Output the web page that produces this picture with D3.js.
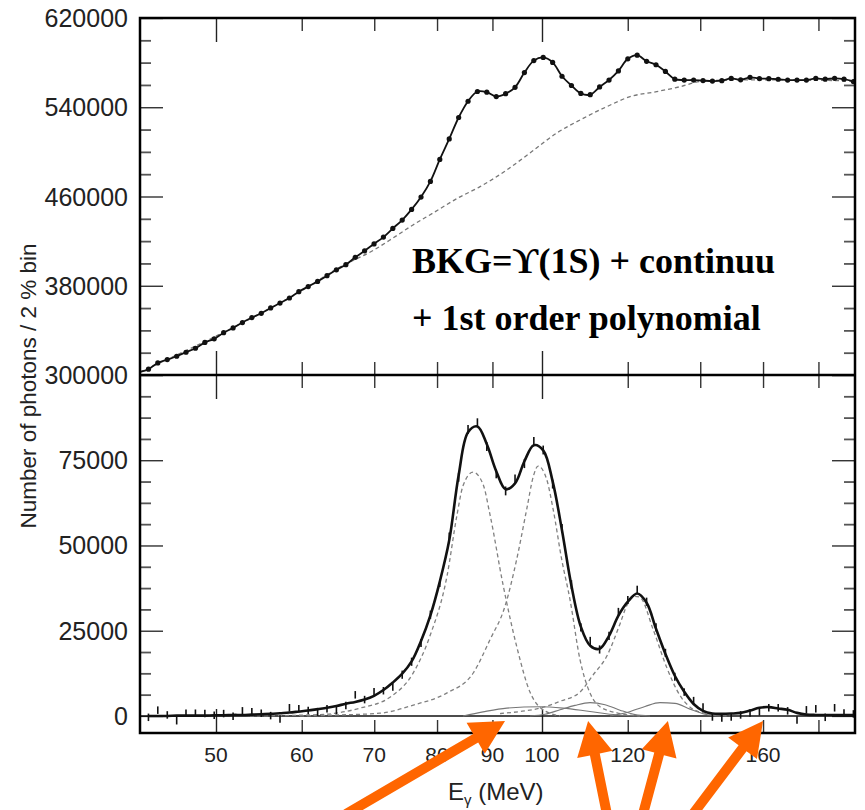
<!DOCTYPE html>
<html>
<head>
<meta charset="utf-8">
<script src="https://cdn.jsdelivr.net/npm/d3@7"></script>
<style>
  body { margin: 0; background: #fff; }
  svg { display: block; }
</style>
</head>
<body>
<div id="chart"></div>
<script>
// photon energy bin centres (MeV), 2 % bins
const energies = [43.31, 44.18, 45.08, 45.99, 46.91, 47.86, 48.83, 49.81, 50.82, 51.85,
  52.89, 53.96, 55.05, 56.16, 57.29, 58.45, 59.63, 60.83, 62.06, 63.31,
  64.59, 65.90, 67.23, 68.58, 69.97, 71.38, 72.82, 74.29, 75.79, 77.32,
  78.88, 80.47, 82.10, 83.76, 85.45, 87.17, 88.93, 90.73, 92.56, 94.43,
  96.33, 98.28, 100.26, 102.29, 104.35, 106.46, 108.61, 110.80, 113.03, 115.32,
  117.64, 120.02, 122.44, 124.91, 127.43, 130.01, 132.63, 135.31, 138.04, 140.83,
  143.67, 146.57, 149.53, 152.55, 155.63, 158.77, 161.97, 165.24, 168.58, 171.98,
  175.45, 178.99, 182.61, 186.29, 190.05, 193.89];

// upper panel: raw spectrum
const topCounts = [305200, 310800, 313800, 316800, 320400, 324000, 329200, 332400, 337900, 342200,
  347000, 351500, 355300, 360100, 364500, 369000, 374700, 379300, 383900, 389000,
  394300, 398900, 405500, 411300, 417500, 423600, 431400, 438900, 448400, 459500,
  473500, 493200, 511600, 530800, 545400, 554100, 553500, 549600, 552200, 557900,
  571100, 581800, 584700, 580200, 567800, 559500, 552400, 551300, 558200, 564400,
  572600, 583400, 586700, 581200, 578100, 572100, 565200, 564400, 564400, 563900,
  563500, 563800, 565800, 564600, 566800, 565700, 565600, 565100, 564400, 564400,
  564400, 565800, 565200, 565900, 565200, 563000];
// fit value where the curve enters at the left edge
const topFitStartE = 42.54, topFitStart = 302700;

// upper panel: background shape (dashed)
const bkgE = [42.54, 52.2, 59.78, 65.08, 69.82, 72.85, 76.01, 79.32, 83.65, 87.66, 92.78,
  97.48, 103.18, 108.42, 114.75, 120.58, 127.62, 134.10, 139.93, 152.35, 173.1, 194.5];
const bkgCounts = [302700, 344000, 374700, 396800, 411600, 422800, 434500, 445200, 458700, 468800, 483800,
  499000, 516900, 528600, 540500, 549500, 554000, 558400, 563000, 564600, 564400, 563500];

// lower panel: background-subtracted spectrum
const subCounts = [-400, 1700, 300, -1400, 800, 800, 700, 200, 700, -100,
  1500, 1200, 800, 100, -900, 2400, 2100, 1600, 1100, 2100,
  1600, 3100, 6200, 4800, 7100, 7400, 8500, 12100, 15900, 21400,
  29700, 39000, 52500, 70000, 84000, 86000, 79000, 71000, 66000, 69500,
  74000, 80500, 78000, 68000, 55000, 38500, 26000, 22000, 19500, 23500,
  30500, 34000, 37000, 33500, 26000, 18500, 11500, 7000, 4500, 2600,
  -300, -600, -300, 300, 900, 1200, 2400, 2400, 1500, -1200,
  1800, 2100, -400, 2400, 900, 600];
const subErrors = [1100, 1100, 1100, 1100, 1100, 1100, 1100, 1100, 1100, 1100,
  1100, 1100, 1100, 1100, 1100, 1100, 1100, 1100, 1100, 1100,
  1100, 1100, 1100, 1100, 1100, 1100, 1100, 1200, 1200, 1200,
  1200, 1200, 1300, 1300, 1300, 1300, 1300, 1300, 1300, 1300,
  1300, 1300, 1300, 1300, 1300, 1300, 1200, 1200, 1200, 1200,
  1200, 1200, 1200, 1200, 1200, 1200, 1200, 1100, 1100, 1100,
  1100, 1100, 1100, 1100, 1100, 1100, 1100, 1100, 1100, 1100,
  1100, 1100, 1100, 1100, 1100, 1100];
const subFit = [0, 0, 0, 100, 100, 100, 100, 200, 200, 300,
  300, 400, 500, 600, 800, 1000, 1300, 1600, 2000, 2400,
  2900, 3600, 4100, 4800, 5900, 7600, 9800, 12400, 16000, 22000,
  29500, 39400, 51500, 70600, 83200, 84900, 79700, 71800, 66500, 68200,
  74700, 79400, 77900, 68800, 54400, 38200, 26200, 20600, 19700, 23500,
  29400, 33500, 35900, 33200, 25600, 18200, 11800, 7100, 3500, 1500,
  700, 600, 700, 900, 1600, 2400, 2600, 2200, 1800, 900,
  400, 300, 300, 300, 300, 300];

// fitted line shapes (dashed)
const peak1E = [53.75, 62.38, 67.91, 72.38, 76.01, 78.81, 81.71, 83.47, 84.54, 86.36, 88.21, 89.54, 92.05, 94.83, 97.48, 99.58, 103.90];
const peak1Counts = [0, 400, 2300, 5500, 12500, 23500, 41000, 59000, 67500, 71500, 68000, 59000, 38500, 20000, 7000, 2500, 0];
const peak2E = [59.78, 65.08, 70.86, 76.07, 81.65, 86.4, 89.54, 92.44, 94.76, 96.8, 98.2, 99.16, 101.0, 102.4, 104.28, 106.14, 108.42, 110.75, 113.13, 117.29, 123.17];
const peak2Counts = [0, 300, 800, 3200, 6700, 12600, 22400, 32200, 45900, 60600, 70400, 73300, 69400, 60600, 45900, 34100, 16500, 6700, 2700, 900, 0];
const peak3E = [91.46, 95.43, 99.58, 103.90, 108.42, 111.46, 114.75, 118.04, 119.81, 121.87, 123.17, 126.62, 130.45, 134.10, 137.86, 142.03, 149.14];
const peak3Counts = [700, 1300, 2300, 4300, 7000, 12000, 17500, 27000, 32500, 35100, 34800, 25500, 14000, 6000, 2000, 700, 0];

// small transitions (thin solid)
const smallAE = [84.54, 88.21, 92.78, 99.58, 104.57, 110.75, 117.29, 123.17];
const smallACounts = [0, 1200, 2300, 2700, 2300, 1300, 300, 0];
const smallBE = [97.48, 100.64, 103.90, 107.27, 110.75, 114.34, 118.04, 121.87, 125.82];
const smallBCounts = [0, 500, 1800, 3100, 3900, 3300, 1700, 400, 0];
const smallCE = [115.56, 119.81, 124.49, 128.52, 132.69, 136.99, 141.43, 146.02];
const smallCCounts = [0, 1000, 2800, 3900, 3700, 2000, 500, 0];

// ticks
const xMajorTicks = [50, 100];
const xMinorTicks = [60, 70, 80, 90, 120, 140, 160, 180];
const xTickLabels = [50, 60, 70, 80, 90, 100, 120, 160];
const topYTicks = [300000, 380000, 460000, 540000, 620000];
const botYTicks = [0, 25000, 50000, 75000];

// annotation arrows: tip energy, tail energy
const arrowTipE = [92.44, 110.3, 130.7, 160.0];
const arrowTailE = [65.92, 114.8, 123.96, 137.86];

const width = 865, height = 810;
const plotLeft = 140, plotRight = 855;
const topEdge = 18, midEdge = 375, botEdge = 733;

const x = d3.scaleLog().domain([42.54, 194.55]).range([plotLeft, plotRight]);
const yTop = d3.scaleLinear().domain([300000, 620000]).range([midEdge, topEdge]);
const yBot = d3.scaleLinear().domain([-5000, 100000]).range([botEdge, midEdge]);

const svg = d3.select("#chart").append("svg")
    .attr("width", width)
    .attr("height", height)
    .style("font-family", "'Liberation Sans', Arial, Helvetica, sans-serif");

const defs = svg.append("defs");
defs.append("clipPath").attr("id", "clipTop").append("rect")
    .attr("x", plotLeft).attr("y", topEdge)
    .attr("width", plotRight - plotLeft).attr("height", midEdge - topEdge);
defs.append("clipPath").attr("id", "clipBot").append("rect")
    .attr("x", plotLeft).attr("y", midEdge)
    .attr("width", plotRight - plotLeft).attr("height", botEdge - midEdge);

// ticks helper
function ticks(axis, tx, ty, values, size, color, sw) {
    const g = svg.append("g")
        .attr("transform", `translate(${tx},${ty})`)
        .call(axis.tickValues(values).tickSize(size).tickFormat(""));
    g.select(".domain").remove();
    g.selectAll(".tick line").attr("stroke", color).attr("stroke-width", sw);
    return g;
}

const topMinor = d3.range(300000, 620001, 20000).filter(v => !topYTicks.includes(v));
const botMinor = d3.range(0, 100001, 6250).filter(v => v % 25000 !== 0);

// y ticks, both panels, both sides
[[yTop, topYTicks, topMinor], [yBot, botYTicks.concat([100000]), botMinor]].forEach(([s, maj, min]) => {
    ticks(d3.axisLeft(s), plotLeft, 0, min, -11, "#555", 1.8);
    ticks(d3.axisLeft(s), plotLeft, 0, maj, -23, "#222", 1.3);
    ticks(d3.axisRight(s), plotRight, 0, min, -11, "#555", 1.8);
    ticks(d3.axisRight(s), plotRight, 0, maj, -23, "#222", 1.3);
});

// x ticks on every horizontal edge, pointing inward
[[d3.axisTop, topEdge], [d3.axisBottom, midEdge], [d3.axisTop, midEdge], [d3.axisBottom, botEdge]].forEach(([fn, yy]) => {
    ticks(fn(x), 0, yy, xMinorTicks, -13, "#333", 1.4);
    ticks(fn(x), 0, yy, xMajorTicks, -24, "#222", 1.4);
});

// tick labels
svg.append("g").selectAll("text")
    .data(topYTicks).enter().append("text")
    .attr("x", plotLeft - 12).attr("y", d => yTop(d))
    .attr("dy", "0.36em").attr("text-anchor", "end")
    .attr("font-size", 25).attr("fill", "#222")
    .text(d => d);
svg.append("g").selectAll("text")
    .data(botYTicks).enter().append("text")
    .attr("x", plotLeft - 12).attr("y", d => yBot(d))
    .attr("dy", "0.36em").attr("text-anchor", "end")
    .attr("font-size", 25).attr("fill", "#222")
    .text(d => d);
svg.append("g").selectAll("text")
    .data(xTickLabels).enter().append("text")
    .attr("x", d => x(d)).attr("y", 762)
    .attr("text-anchor", "middle")
    .attr("font-size", 21).attr("fill", "#222")
    .text(d => d);

// axis titles
svg.append("text")
    .attr("transform", "translate(36,386) rotate(-90)")
    .attr("text-anchor", "middle")
    .attr("font-size", 22.5).attr("fill", "#222")
    .text("Number of photons / 2 % bin");
const xt = svg.append("text")
    .attr("x", 448).attr("y", 800)
    .attr("font-size", 24).attr("fill", "#222");
xt.append("tspan").text("E");
xt.append("tspan").attr("font-size", 15).attr("dy", 5).text("γ");
xt.append("tspan").attr("dy", -5).text(" (MeV)");

// ---- upper panel
const gTop = svg.append("g").attr("clip-path", "url(#clipTop)");
const lineSparse = (ys, es) => d3.line().x((d, i) => x(es[i])).y(d => ys(d)).curve(d3.curveMonotoneX);
const topFitE = [topFitStartE].concat(energies);
const topFitV = [topFitStart].concat(topCounts);

gTop.append("path").datum(bkgCounts)
    .attr("d", lineSparse(yTop, bkgE))
    .attr("fill", "none").attr("stroke", "#777")
    .attr("stroke-width", 1.3).attr("stroke-dasharray", "4,3");
gTop.append("path").datum(topFitV)
    .attr("d", d3.line().x((d, i) => x(topFitE[i])).y(d => yTop(d)).curve(d3.curveCatmullRom))
    .attr("fill", "none").attr("stroke", "#111").attr("stroke-width", 1.8);
gTop.selectAll("circle").data(topCounts).enter().append("circle")
    .attr("cx", (d, i) => x(energies[i])).attr("cy", d => yTop(d))
    .attr("r", 2.6).attr("fill", "#111");

// ---- lower panel
const gBot = svg.append("g").attr("clip-path", "url(#clipBot)");
gBot.append("line")
    .attr("x1", plotLeft).attr("x2", plotRight)
    .attr("y1", yBot(0)).attr("y2", yBot(0))
    .attr("stroke", "#111").attr("stroke-width", 1.6);

[[peak1Counts, peak1E], [peak2Counts, peak2E], [peak3Counts, peak3E]].forEach(([v, e]) => {
    gBot.append("path").datum(v)
        .attr("d", lineSparse(yBot, e))
        .attr("fill", "none").attr("stroke", "#808080")
        .attr("stroke-width", 1.3).attr("stroke-dasharray", "4,3");
});
[[smallACounts, smallAE], [smallBCounts, smallBE], [smallCCounts, smallCE]].forEach(([v, e]) => {
    gBot.append("path").datum(v)
        .attr("d", lineSparse(yBot, e))
        .attr("fill", "none").attr("stroke", "#777").attr("stroke-width", 1.1);
});

gBot.selectAll("line.err").data(subCounts).enter().append("line")
    .attr("class", "err")
    .attr("x1", (d, i) => x(energies[i])).attr("x2", (d, i) => x(energies[i]))
    .attr("y1", (d, i) => yBot(d - subErrors[i])).attr("y2", (d, i) => yBot(d + subErrors[i]))
    .attr("stroke", "#111").attr("stroke-width", 1.6);

gBot.append("path").datum(subFit)
    .attr("d", d3.line().x((d, i) => x(energies[i])).y(d => yBot(d)).curve(d3.curveCatmullRom))
    .attr("fill", "none").attr("stroke", "#111").attr("stroke-width", 2.6);

// frames
svg.append("rect")
    .attr("x", plotLeft).attr("y", topEdge)
    .attr("width", plotRight - plotLeft).attr("height", botEdge - topEdge)
    .attr("fill", "none").attr("stroke", "#000").attr("stroke-width", 2.5);
svg.append("line")
    .attr("x1", plotLeft).attr("x2", plotRight)
    .attr("y1", midEdge).attr("y2", midEdge)
    .attr("stroke", "#000").attr("stroke-width", 2.5);

// annotation text
const note = svg.append("g")
    .attr("font-family", "'Liberation Serif', 'Times New Roman', 'DejaVu Serif', serif")
    .attr("font-weight", "bold").attr("font-size", 36).attr("fill", "#000");
note.append("text").attr("x", 412).attr("y", 273).text("BKG=ϒ(1S) + continuu");
note.append("text").attr("x", 412).attr("y", 330).text("+ 1st order polynomial");

// arrows
const tipY = yBot(-1500), tailY = 814;
const headLen = 34, headHalf = 18, shaftHalf = 5;
arrowTipE.forEach((e, i) => {
    const tx = x(e), ty = tipY;
    const sx = x(arrowTailE[i]), sy = tailY;
    const len = Math.hypot(tx - sx, ty - sy);
    const ux = (tx - sx) / len, uy = (ty - sy) / len;
    const nx = -uy, ny = ux;
    const bx = tx - headLen * ux, by = ty - headLen * uy;
    const pts = [
        [tx, ty],
        [bx + headHalf * nx, by + headHalf * ny],
        [bx + shaftHalf * nx, by + shaftHalf * ny],
        [sx + shaftHalf * nx, sy + shaftHalf * ny],
        [sx - shaftHalf * nx, sy - shaftHalf * ny],
        [bx - shaftHalf * nx, by - shaftHalf * ny],
        [bx - headHalf * nx, by - headHalf * ny]
    ];
    svg.append("polygon")
        .attr("points", pts.map(p => p.join(",")).join(" "))
        .attr("fill", "#ff6600");
});
</script>
</body>
</html>
